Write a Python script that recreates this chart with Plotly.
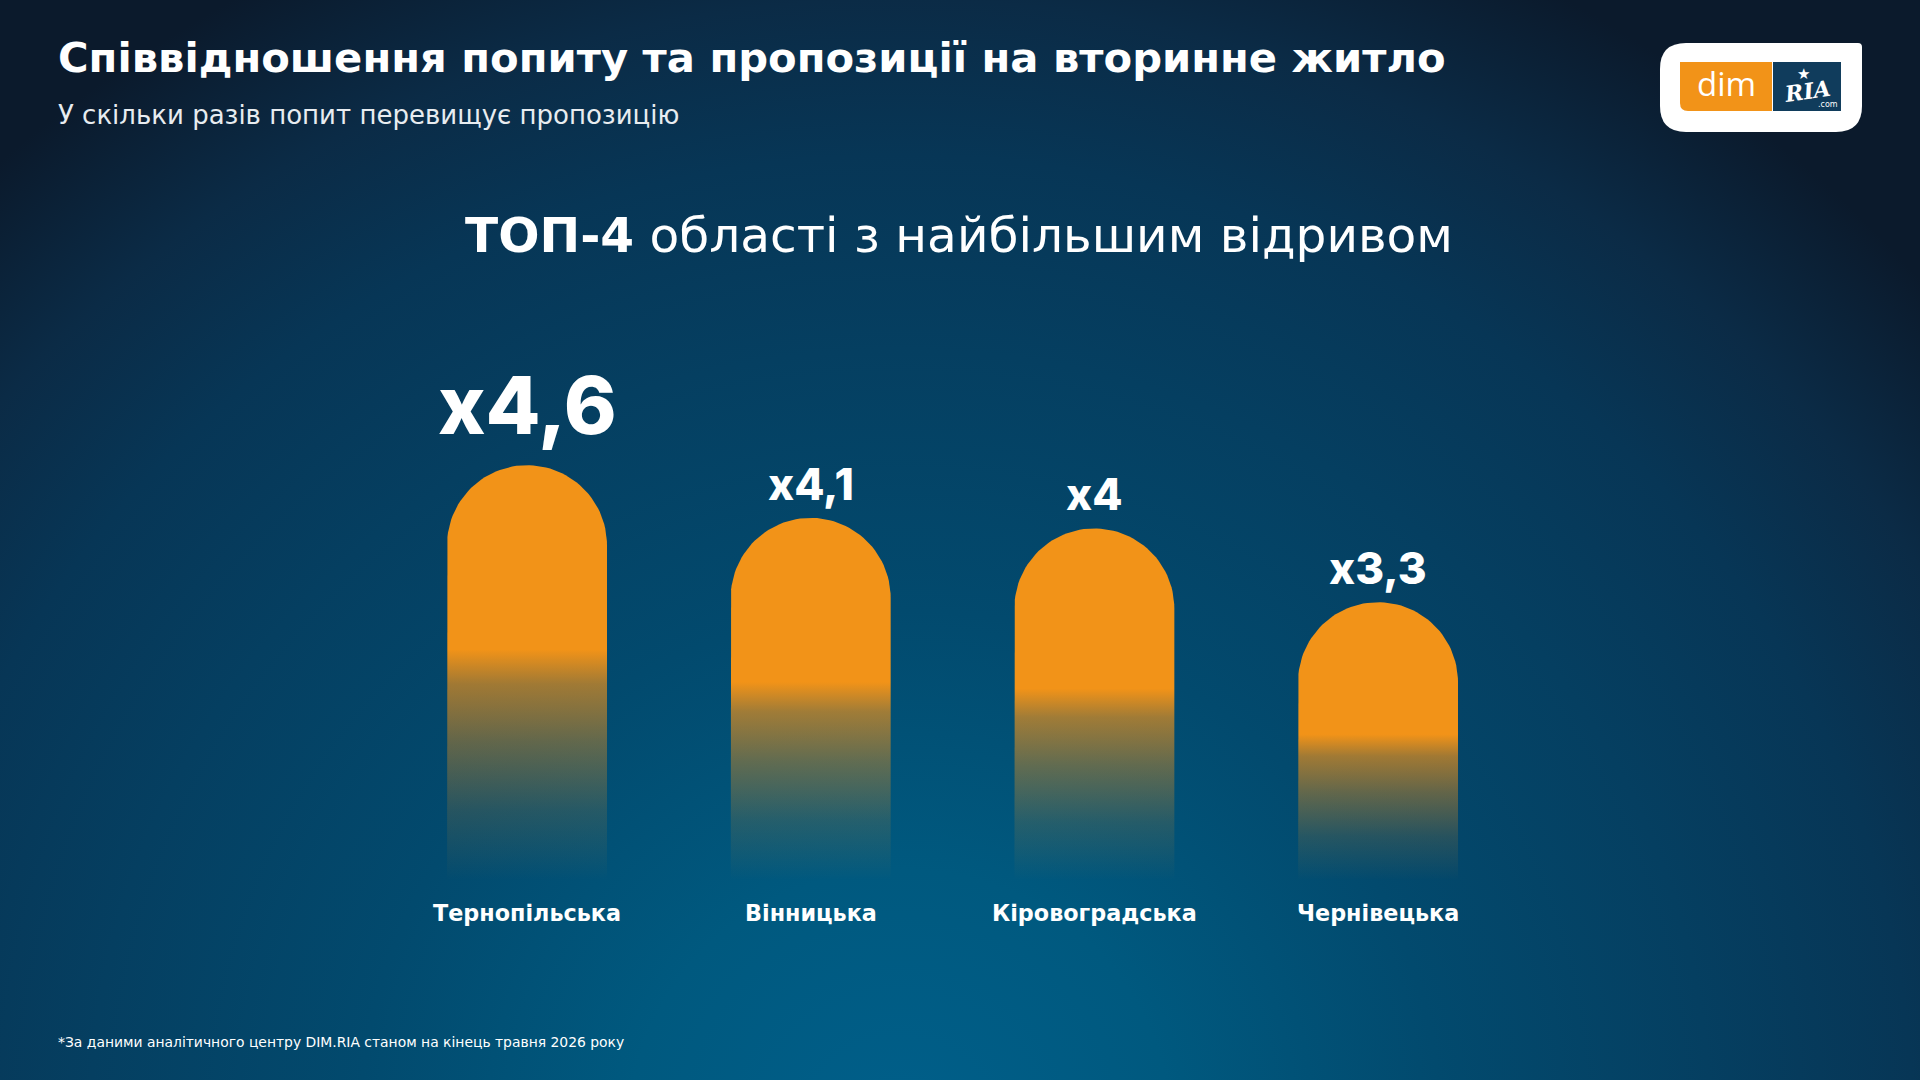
import numpy as np
import plotly.graph_objects as go

# ---------------- data ----------------
regions = ["Тернопільська", "Вінницька", "Кіровоградська", "Чернівецька"]
ratios = [4.6, 4.1, 4.0, 3.3]
ratio_labels = ["x4,6", "x4,1", "x4", "x3,3"]

title = "Співвідношення попиту та пропозиції на вторинне житло"
subtitle = "У скільки разів попит перевищує пропозицію"
heading_bold = "ТОП-4"
heading_rest = " області з найбільшим відривом"
footnote = "*За даними аналітичного центру DIM.RIA станом на кінець травня 2026 року"

# ---------------- geometry (pixels of the 1920x1080 canvas) ----------------
W, H = 1920, 1080
X0_PX, DX_PX = 527.0, 283.67      # category 0 position, spacing
Y0_PX, DY_PX = 950.0, 105.4       # baseline position, px per unit
x_range = [-X0_PX / DX_PX, (W - X0_PX) / DX_PX]
y_range = [-(H - Y0_PX) / DY_PX, Y0_PX / DY_PX]


def px2x(px):
    return (px - X0_PX) / DX_PX


def px2y(py):
    return (Y0_PX - py) / DY_PX


ORANGE = "242,147,24"
BG = "#0b1a2c"

fig = go.Figure()

# background radial glow
cx, cy, rx, ry_ = 900, 1130, 1350, 1300
bx = [px2x(cx - rx), px2x(cx + rx), px2x(cx + rx), px2x(cx - rx), px2x(cx - rx)]
by = [px2y(cy - ry_), px2y(cy - ry_), px2y(cy + ry_), px2y(cy + ry_), px2y(cy - ry_)]
fig.add_trace(go.Scatter(
    x=bx, y=by, mode="lines", line=dict(width=0), fill="toself",
    fillgradient=dict(type="radial", colorscale=[
        [0.0, "#005f8a"], [0.2, "#00597f"], [0.4, "#024a6e"], [0.6, "#053f61"],
        [0.75, "#073656"], [0.87, "#0b2b46"], [1.0, BG]]),
    hoverinfo="skip", showlegend=False))

# bars: rounded top, vertical fade to transparent
half_w = 80 / DX_PX
rad_y = 80 / DY_PX
theta = np.linspace(np.pi, 0, 60)
fade_bottom = px2y(880)
for i, v in enumerate(ratios):
    xs = [i - half_w, i - half_w] + list(i + half_w * np.cos(theta)) + [i + half_w, i - half_w]
    ys = [0, v - rad_y] + list(v - rad_y + rad_y * np.sin(theta)) + [0, 0]
    fig.add_trace(go.Scatter(
        x=xs, y=ys, mode="lines", line=dict(width=0), fill="toself",
        fillgradient=dict(type="vertical", start=fade_bottom, stop=0.62 * v,
                          colorscale=[[0, f"rgba({ORANGE},0)"], [0.3, f"rgba({ORANGE},0.15)"],
                                      [0.6, f"rgba({ORANGE},0.4)"], [0.85, f"rgba({ORANGE},0.66)"],
                                      [1, f"rgba({ORANGE},1)"]]),
        hoverinfo="skip", showlegend=False))

FONT = "DejaVu Sans"
NUMFONT = "Inter"
annotations = []
vmax = max(ratios)
for i, (v, lab, reg) in enumerate(zip(ratios, ratio_labels, regions)):
    big = v == vmax
    annotations.append(dict(
        x=i, y=v, xref="x", yref="y", text=lab, showarrow=False,
        yanchor="bottom", xanchor="center", yshift=10 if big else 5,
        font=dict(family=NUMFONT, size=80 if big else 44, color="white", weight=800)))
    annotations.append(dict(
        x=i, y=0, xref="x", yref="y", text=reg, showarrow=False,
        yanchor="middle", xanchor="center", yshift=Y0_PX - 913,
        font=dict(family=FONT, size=22.3, color="white", weight=700)))

annotations += [
    dict(x=56 / W, y=1 - 58 / H, xref="paper", yref="paper", text=title, showarrow=False,
         xanchor="left", yanchor="middle", font=dict(family=FONT, size=41.7, color="white", weight=700)),
    dict(x=56 / W, y=1 - 115 / H, xref="paper", yref="paper", text=subtitle, showarrow=False,
         xanchor="left", yanchor="middle", font=dict(family=FONT, size=26, color="#e8ecf0", weight=400)),
    dict(x=959 / W, y=1 - 235 / H, xref="paper", yref="paper",
         text=f"<b>{heading_bold}</b>{heading_rest}", showarrow=False,
         xanchor="center", yanchor="middle", font=dict(family=FONT, size=48.6, color="white", weight=400)),
    dict(x=56 / W, y=1 - 1042 / H, xref="paper", yref="paper", text=footnote, showarrow=False,
         xanchor="left", yanchor="middle", font=dict(family=FONT, size=13.9, color="white", weight=400)),
]


# ---------------- logo ----------------
def P(px, py):
    return f"{px / W:.5f},{1 - py / H:.5f}"


def rrect(x1, y1, x2, y2, tl, tr, br, bl):
    return (f"M {P(x1 + tl, y1)} L {P(x2 - tr, y1)} Q {P(x2, y1)} {P(x2, y1 + tr)} "
            f"L {P(x2, y2 - br)} Q {P(x2, y2)} {P(x2 - br, y2)} "
            f"L {P(x1 + bl, y2)} Q {P(x1, y2)} {P(x1, y2 - bl)} "
            f"L {P(x1, y1 + tl)} Q {P(x1, y1)} {P(x1 + tl, y1)} Z")


shapes = [
    dict(type="path", xref="paper", yref="paper", path=rrect(1660, 43, 1862, 132, 26, 4, 26, 26),
         fillcolor="white", line=dict(width=0)),
    dict(type="path", xref="paper", yref="paper", path=rrect(1680, 62, 1772, 111, 0, 0, 0, 8),
         fillcolor=f"rgb({ORANGE})", line=dict(width=0)),
    dict(type="path", xref="paper", yref="paper", path=rrect(1773, 62, 1841, 111, 0, 0, 0, 0),
         fillcolor="#103c5c", line=dict(width=0)),
]
annotations += [
    dict(x=1726 / W, y=1 - 84 / H, xref="paper", yref="paper", text="dim", showarrow=False,
         xanchor="center", yanchor="middle", font=dict(family="Open Sans", size=33, color="white", weight=500)),
    dict(x=1807 / W, y=1 - 91 / H, xref="paper", yref="paper", text="<b><i>RIA</i></b>", showarrow=False,
         xanchor="center", yanchor="middle", textangle=-8,
         font=dict(family="DejaVu Serif", size=22, color="white")),
    dict(x=1803 / W, y=1 - 74 / H, xref="paper", yref="paper", text="★", showarrow=False,
         xanchor="center", yanchor="middle", font=dict(family="DejaVu Sans", size=15, color="white")),
    dict(x=1828 / W, y=1 - 105 / H, xref="paper", yref="paper", text=".com", showarrow=False,
         xanchor="center", yanchor="middle", font=dict(family="DejaVu Sans", size=8, color="white")),
]

fig.update_layout(
    width=W, height=H, margin=dict(l=0, r=0, t=0, b=0, pad=0),
    paper_bgcolor=BG, plot_bgcolor=BG,
    xaxis=dict(range=x_range, visible=False, fixedrange=True),
    yaxis=dict(range=y_range, visible=False, fixedrange=True),
    showlegend=False, annotations=annotations, shapes=shapes,
)

fig.write_html("out.html", config={"displayModeBar": False})
